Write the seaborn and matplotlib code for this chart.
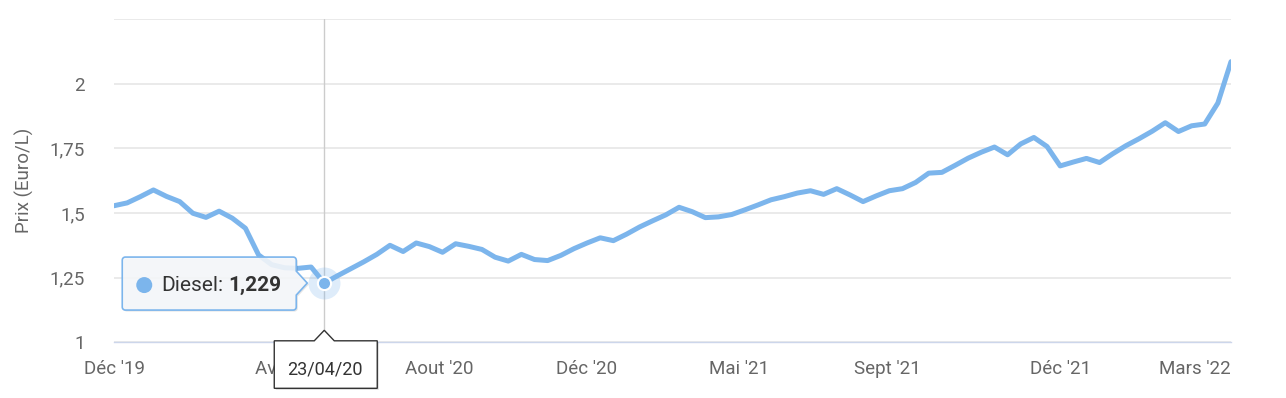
import numpy as np
import pandas as pd
import matplotlib
matplotlib.use("Agg")
import matplotlib.pyplot as plt
import seaborn as sns
from matplotlib.patches import Polygon, Circle
from matplotlib.transforms import Affine2D, ScaledTranslation

# ---------------- data ----------------
series_name = "Diesel"
prices = [1.528, 1.539, 1.563, 1.589, 1.564, 1.544, 1.499, 1.483, 1.507, 1.480,
          1.441, 1.338, 1.300, 1.288, 1.286, 1.291, 1.229, 1.257, 1.284, 1.311,
          1.340, 1.375, 1.351, 1.384, 1.370, 1.348, 1.381, 1.371, 1.359, 1.329,
          1.314, 1.340, 1.320, 1.316, 1.336, 1.362, 1.384, 1.404, 1.393, 1.418,
          1.446, 1.470, 1.493, 1.522, 1.505, 1.482, 1.485, 1.494, 1.512, 1.531,
          1.551, 1.563, 1.577, 1.586, 1.572, 1.594, 1.570, 1.544, 1.566, 1.586,
          1.594, 1.618, 1.654, 1.657, 1.684, 1.712, 1.735, 1.755, 1.725, 1.767,
          1.792, 1.757, 1.682, 1.697, 1.711, 1.695, 1.729, 1.760, 1.787, 1.816,
          1.849, 1.815, 1.837, 1.844, 1.925, 2.085]
x_tick_positions = [0, 12.9, 24.75, 35.94, 47.56, 58.83, 72.05, 84.42]
x_tick_labels = ["Déc '19", "Avr '20", "Aout '20", "Déc '20", "Mai '21",
                 "Sept '21", "Déc '21", "Mars '22"]
y_ticks = [1, 1.25, 1.5, 1.75, 2, 2.25]
y_tick_labels = ["1", "1,25", "1,5", "1,75", "2", ""]
y_label = "Prix (Euro/L)"
hover_index = 16
hover_date = "23/04/20"
hover_value_label = "1,229"

df = pd.DataFrame({"idx": np.arange(len(prices)), "price": prices})

# ---------------- style ----------------
sns.set_theme(style="white")
plt.rcParams["font.family"] = ["Roboto", "DejaVu Sans"]

LINE = "#7cb5ec"
GRID = "#e6e6e6"
AXIS = "#ccd6eb"
LABEL = "#666666"
FS = 13.5

W, H = 1286, 398
fig = plt.figure(figsize=(W / 100, H / 100), dpi=100)
ax = fig.add_axes([114 / W, (H - 342.3) / H, 1117 / W, 323.3 / H])

sns.lineplot(data=df, x="idx", y="price", ax=ax, color=LINE, linewidth=3.6,
             zorder=3, solid_joinstyle="round", solid_capstyle="round")

ax.set_xlim(0, len(prices) - 1)
ax.set_ylim(y_ticks[0], y_ticks[-1])

for s in ["top", "right", "left"]:
    ax.spines[s].set_visible(False)
ax.spines["bottom"].set_color(AXIS)
ax.spines["bottom"].set_linewidth(1.0)

ax.set_yticks(y_ticks)
ax.set_yticklabels(y_tick_labels)
ax.set_xticks(x_tick_positions)
ax.set_xticklabels(x_tick_labels)
ax.tick_params(axis="y", length=0, pad=21, labelsize=FS, labelcolor=LABEL)
ax.tick_params(axis="x", length=9.5, width=1.0, color=AXIS, direction="out",
               pad=3, labelsize=FS, labelcolor=LABEL)
ax.yaxis.grid(True, color=GRID, linewidth=1.2)
ax.xaxis.grid(False)
ax.set_axisbelow(True)
ax.set_xlabel("")
ax.set_ylabel(y_label, fontsize=FS, color=LABEL)
ax.yaxis.set_label_coords((34 - 114) / 1117, 0.5)

# keep last x label inside the plot, right aligned as in the reference
last_tick = ax.xaxis.get_major_ticks()[len(x_tick_positions) - 1]
last_tick.label1.set_horizontalalignment("right")
last_tick.label1.set_transform(last_tick.label1.get_transform()
                               + ScaledTranslation(0.07, 0, fig.dpi_scale_trans))

# crosshair
ax.axvline(hover_index, color="#cccccc", linewidth=1.0, zorder=2)

# hover marker
hx = [hover_index]
hy = [prices[hover_index]]
ax.plot(hx, hy, "o", markersize=23, color=LINE, alpha=0.25, zorder=4,
        markeredgewidth=0, clip_on=False)
ax.plot(hx, hy, "o", markersize=9.5, color=LINE, markeredgecolor="white",
        markeredgewidth=1.5, zorder=5, clip_on=False)

fig.canvas.draw()

# ---------------- tooltip (series) ----------------
px, py = ax.transData.transform((hover_index, prices[hover_index]))
T = Affine2D().translate(px, py)


def rounded_poly(left, right, bottom, top, r=3, pointer=None):
    n = 6

    def arc(cx, cy, a0, a1):
        return [(cx + r * np.cos(a), cy + r * np.sin(a))
                for a in np.linspace(a0, a1, n)]
    pts = []
    pts += arc(left + r, top - r, np.pi, np.pi / 2)
    pts += arc(right - r, top - r, np.pi / 2, 0)
    if pointer == "right":
        pts += [(right, 12), (right + 11, 0), (right, -12)]
    pts += arc(right - r, bottom + r, 0, -np.pi / 2)
    pts += arc(left + r, bottom + r, -np.pi / 2, -np.pi)
    return pts


tip_pts = rounded_poly(-202, -28, -27, 26, r=3, pointer="right")
fig.add_artist(Polygon([(x + 1.5, y - 1.5) for x, y in tip_pts], closed=True,
                       transform=T, facecolor="black", alpha=0.10,
                       edgecolor="none", zorder=6))
fig.add_artist(Polygon(tip_pts, closed=True, transform=T, facecolor="#f7f9fc",
                       alpha=0.88, edgecolor="none", zorder=7))
fig.add_artist(Polygon(tip_pts, closed=True, transform=T, facecolor="none",
                       edgecolor=LINE, linewidth=1.2, zorder=7.5))
fig.add_artist(Circle((-180, -2), 8, transform=T, facecolor=LINE,
                      edgecolor="none", zorder=8))
fig.text(-163, -2, f"{series_name}:", transform=T, fontsize=15, color="#333333",
         va="center", ha="left", zorder=9)
fig.text(-96, -2, hover_value_label, transform=T, fontsize=15, color="#333333",
         fontweight="bold", va="center", ha="left", zorder=9)

# ---------------- tooltip (date) ----------------
dx, _ = ax.transData.transform((hover_index, y_ticks[0]))
_, dy = ax.transAxes.transform((0, 0))
T2 = Affine2D().translate(dx, dy)
date_pts = [(-50, 1.5), (-10, 1.5), (0, 12), (10, 1.5), (53, 1.5),
            (53, -46), (-50, -46)]
fig.add_artist(Polygon([(x + 1.5, y - 1.5) for x, y in date_pts], closed=True,
                       transform=T2, facecolor="black", alpha=0.15,
                       edgecolor="none", zorder=6))
fig.add_artist(Polygon(date_pts, closed=True, transform=T2, facecolor="white",
                       edgecolor="#333333", linewidth=1.0, zorder=7))
fig.text(1, -27, hover_date, transform=T2, fontsize=13, color="#333333",
         va="center", ha="center", zorder=9)

fig.savefig("out.png", dpi=100)
